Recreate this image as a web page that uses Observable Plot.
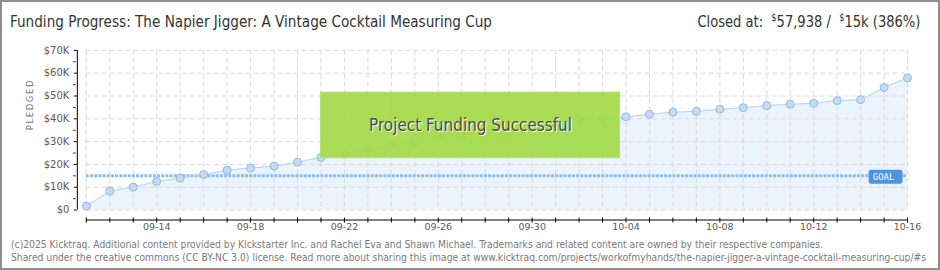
<!DOCTYPE html>
<html><head><meta charset="utf-8">
<script src="https://cdn.jsdelivr.net/npm/d3@7"></script>
<script src="https://cdn.jsdelivr.net/npm/@observablehq/plot@0.6"></script>
<style>
html,body{margin:0;padding:0;background:#fff;}
#frame{position:relative;width:940px;height:270px;box-sizing:border-box;border:2px solid #8e8e8e;overflow:hidden;background:#fff;}
#chart{position:absolute;left:-2px;top:-2px;}
.hdr{position:absolute;top:10px;font-family:"DejaVu Sans Condensed","Liberation Sans Narrow",sans-serif;font-size:16px;color:#333;white-space:nowrap;line-height:20px;}
#title{left:8px;transform-origin:0 50%;}
#closed{right:18px;transform-origin:100% 50%;}
#closed sup{font-size:10px;vertical-align:6px;line-height:0;}
#footer{position:absolute;left:9px;top:236px;font-family:"DejaVu Sans Condensed","DejaVu Sans",sans-serif;font-size:10px;color:#7a7a7a;white-space:nowrap;line-height:13px;transform-origin:0 0;}
</style></head>
<body>
<div id="frame">
  <div id="chart"></div>
  <div id="title" class="hdr"></div>
  <div id="closed" class="hdr"></div>
  <div id="footer"></div>
</div>
<script>
// ---- data ----
const titleText = "Funding Progress: The Napier Jigger: A Vintage Cocktail Measuring Cup";
const closedLabel = "Closed at:";
const closedAmount = "57,938";
const goalAmountLabel = "15k";
const percentLabel = "(386%)";
const footerLines = [
  "(c)2025 Kicktraq. Additional content provided by Kickstarter Inc. and Rachel Eva and Shawn Michael. Trademarks and related content are owned by their respective companies.",
  "Shared under the creative commons (CC BY-NC 3.0) license. Read more about sharing this image at www.kicktraq.com/projects/workofmyhands/the-napier-jigger-a-vintage-cocktail-measuring-cup/#s"
];

const dates = [
  "2025-09-11","2025-09-12","2025-09-13","2025-09-14","2025-09-15","2025-09-16","2025-09-17","2025-09-18",
  "2025-09-19","2025-09-20","2025-09-21","2025-09-22","2025-09-23","2025-09-24","2025-09-25","2025-09-26",
  "2025-09-27","2025-09-28","2025-09-29","2025-09-30","2025-10-01","2025-10-02","2025-10-03","2025-10-04",
  "2025-10-05","2025-10-06","2025-10-07","2025-10-08","2025-10-09","2025-10-10","2025-10-11","2025-10-12",
  "2025-10-13","2025-10-14","2025-10-15","2025-10-16"
];
const pledged = [
  1750, 8300, 10060, 12550, 14000, 15600, 17500, 18400,
  19250, 21000, 23050, 24500, 26550, 28400, 30000, 31800,
  33000, 34000, 34100, 36000, 38200, 39900, 40250, 40900,
  42000, 42900, 43300, 44200, 44900, 45800, 46400, 46800,
  48000, 48400, 53700, 57938
];
const goal = 15000;
const goalLabel = "GOAL";
const yLabel = "PLEDGED";
const yTicks = [0, 10000, 20000, 30000, 40000, 50000, 60000, 70000];
const yTickLabels = ["$0", "$10K", "$20K", "$30K", "$40K", "$50K", "$60K", "$70K"];
const yMinorTicks = [5000, 15000, 25000, 35000, 45000, 55000, 65000];
const xTickLabels = ["09-14","09-18","09-22","09-26","09-30","10-04","10-08","10-12","10-16"];
const year = "2025";
const bannerText = "Project Funding Successful";
const bannerDates = ["2025-09-21T00:00", "2025-10-03T18:00"];
const bannerValues = [22700, 51500];

// ---- build ----
const toDate = s => new Date(s + (s.length === 10 ? "T00:00Z" : "Z"));
const data = dates.map((d, i) => ({date: toDate(d), pledged: pledged[i]}));
const dayTicks = data.map(d => d.date);
const labelDates = xTickLabels.map(s => toDate(year + "-" + s));
const banner = [{x1: toDate(bannerDates[0]), x2: toDate(bannerDates[1]), y1: bannerValues[0], y2: bannerValues[1]}];
const bannerCenter = [{x: new Date((banner[0].x1.getTime() + banner[0].x2.getTime()) / 2), y: (bannerValues[0] + bannerValues[1]) / 2, t: bannerText}];

const goalBox = {
  draw(ctx) {
    const w = 34, h = 14, r = 2.5, x0 = -w / 2, y0 = -h / 2, x1 = w / 2, y1 = h / 2;
    ctx.moveTo(x0 + r, y0);
    ctx.lineTo(x1 - r, y0); ctx.arcTo(x1, y0, x1, y0 + r, r);
    ctx.lineTo(x1, y1 - r); ctx.arcTo(x1, y1, x1 - r, y1, r);
    ctx.lineTo(x0 + r, y1); ctx.arcTo(x0, y1, x0, y1 - r, r);
    ctx.lineTo(x0, y0 + r); ctx.arcTo(x0, y0, x0 + r, y0, r);
    ctx.closePath();
  }
};

const lastDate = dayTicks[dayTicks.length - 1];

const chart = Plot.plot({
  width: 940,
  height: 270,
  marginTop: 50,
  marginBottom: 60,
  marginLeft: 86,
  marginRight: 31,
  x: {type: "utc", domain: [dayTicks[0], lastDate]},
  y: {domain: [0, 70000]},
  style: {fontFamily: "'DejaVu Sans', sans-serif", background: "transparent", overflow: "visible"},
  marks: [
    Plot.areaY(data, {x: "date", y: "pledged", fill: "#ebf3fd"}),
    Plot.gridY({ticks: yTicks, stroke: "#d9d9d9", strokeOpacity: 1, strokeDasharray: "5,3"}),
    Plot.gridX({ticks: dayTicks, stroke: "#d9d9d9", strokeOpacity: 1, strokeDasharray: "5,3"}),
    Plot.ruleY([goal], {stroke: "#8dbbee", strokeWidth: 3, strokeDasharray: "3,1.2"}),
    Plot.lineY(data, {x: "date", y: "pledged", stroke: "#b5d3f3", strokeWidth: 1}),
    Plot.dot(data, {x: "date", y: "pledged", r: 4, fill: "#c4dbf6", stroke: "#97b6dc", strokeWidth: 1}),
    Plot.rect(banner, {x1: "x1", x2: "x2", y1: "y1", y2: "y2", fill: "url(#bannerHatch)", fillOpacity: 0.93, stroke: "#b9e27c", strokeWidth: 1}),
    Plot.text(bannerCenter, {x: "x", y: "y", text: "t", fontSize: 17, fill: "#ffffff", dx: 1, dy: 1, fontFamily: "'DejaVu Sans Condensed', sans-serif"}),
    Plot.text(bannerCenter, {x: "x", y: "y", text: "t", fontSize: 17, fill: "#4b4b4b", fontFamily: "'DejaVu Sans Condensed', sans-serif"}),
    Plot.dot([goal], {x: () => lastDate, y: d => d, symbol: goalBox, fill: "#4d93de", stroke: "none", dx: -22, dy: 1}),
    Plot.text([goalLabel], {x: () => lastDate, y: () => goal, text: d => d, fill: "#ffffff", fontSize: 9, dx: -24, dy: 1, fontFamily: "'DejaVu Sans Mono', monospace"}),
    // y axis
    Plot.ruleX([dayTicks[0]], {dx: -9, stroke: "#000"}),
    Plot.axisY({ticks: yMinorTicks, tickSize: 3, dx: -10, stroke: "#e00000", fill: "none", label: null}),
    Plot.axisY({ticks: yTicks, tickSize: 3, tickPadding: 5, dx: -9, stroke: "#000", fill: "#5a5a5a", fontSize: 10,
      tickFormat: d => yTickLabels[yTicks.indexOf(d)], label: null}),
    Plot.text([yLabel], {frameAnchor: "left", rotate: -90, dx: -56, fontSize: 8.5, fill: "#777", text: d => d}),
    // x axis
    Plot.ruleY([0], {dy: 10, stroke: "#000"}),
    Plot.axisX({ticks: dayTicks, tickSize: 5, dy: 8, stroke: "#000", fill: "none", label: null}),
    Plot.axisX({ticks: labelDates, tickSize: 0, tickPadding: 4, dy: 9, fill: "#5a5a5a", fontSize: 9.5,
      tickFormat: d3.utcFormat("%m-%d"), label: null})
  ]
});

// hatch pattern for the banner
const svg = d3.select(chart);
const defs = svg.insert("defs", ":first-child");
const pat = defs.append("pattern").attr("id", "bannerHatch").attr("patternUnits", "userSpaceOnUse")
  .attr("width", 4).attr("height", 4);
pat.append("rect").attr("width", 4).attr("height", 4).attr("fill", "#a6dc4d");
pat.append("path").attr("d", "M-1,1 l2,-2 M0,4 l4,-4 M3,5 l2,-2").attr("stroke", "#9dd43f").attr("stroke-width", 1);
svg.selectAll("text").filter(function() { return this.textContent === yLabel; }).attr("letter-spacing", "1.6");

document.getElementById("chart").appendChild(chart);
const titleEl = document.getElementById("title");
titleEl.textContent = titleText;
const closedEl = document.getElementById("closed");
closedEl.innerHTML = closedLabel + "&nbsp; <sup>$</sup>" + closedAmount + " / &nbsp;<sup>$</sup>" + goalAmountLabel + " " + percentLabel;
const foot = document.getElementById("footer");
footerLines.forEach(l => { const d = document.createElement("div"); d.textContent = l; foot.appendChild(d); });

// fit the narrow header/footer type to the reference widths
function fitX(el, target) {
  const w = el.getBoundingClientRect().width;
  if (w > 0) el.style.transform = "scaleX(" + (target / w) + ")";
}
fitX(titleEl, 482);
fitX(closedEl, 223);
const line1 = foot.firstChild;
line1.style.display = "inline-block";
const w1 = line1.getBoundingClientRect().width;
line1.style.display = "";
if (w1 > 0) foot.style.transform = "scaleX(" + (812 / w1) + ")";
</script>
</body></html>
